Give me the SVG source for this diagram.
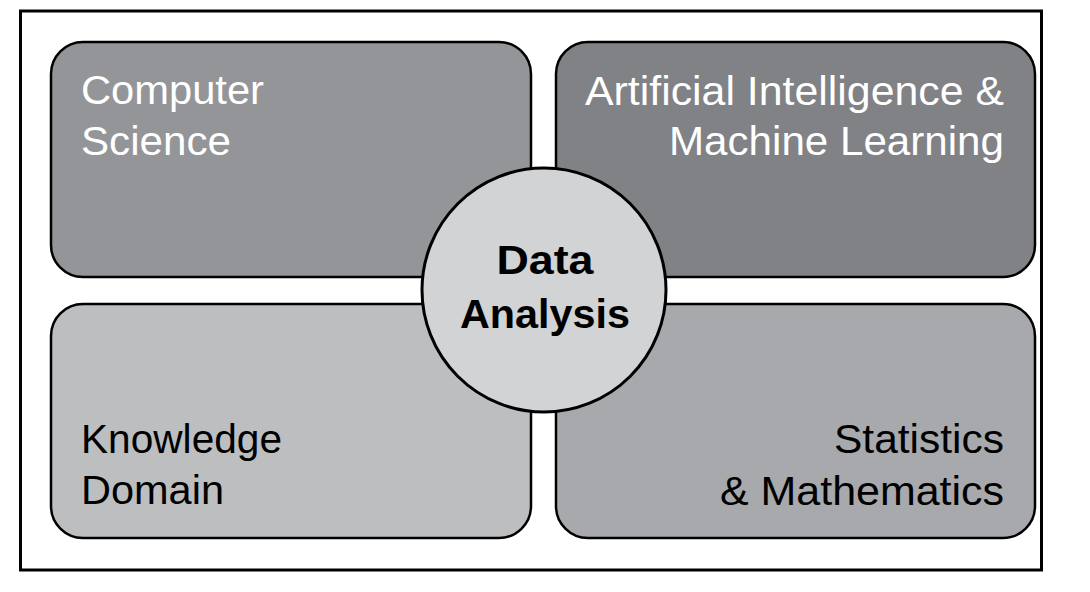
<svg xmlns="http://www.w3.org/2000/svg" width="1090" height="592" viewBox="0 0 1090 592">
  <style>
    .box { stroke: #000; stroke-width: 2.5; }
    .lbl { font-family: "Liberation Sans", Arial, sans-serif; font-size: 41px; }
    .light { fill: #ffffff; }
    .dark { fill: #000000; }
    .center { font-family: "Liberation Sans", Arial, sans-serif; font-size: 41px; font-weight: bold; fill: #000; text-anchor: middle; }
  </style>
  <rect x="0" y="0" width="1090" height="592" fill="#ffffff"/>
  <rect id="frame" x="20.5" y="11" width="1021" height="559" fill="#ffffff" stroke="#000" stroke-width="3"/>
  <g id="connectors"></g>
  <g id="computer-science">
    <rect class="box" x="51" y="42" width="480" height="235" rx="32" ry="32" fill="#939598"/>
    <text class="lbl light" x="81" y="104" textLength="183" lengthAdjust="spacingAndGlyphs">Computer</text>
    <text class="lbl light" x="81" y="155" textLength="150" lengthAdjust="spacingAndGlyphs">Science</text>
  </g>
  <g id="ai-ml">
    <rect class="box" x="556" y="42" width="479" height="235" rx="32" ry="32" fill="#808285"/>
    <text class="lbl light" x="1004" y="105" text-anchor="end" textLength="419" lengthAdjust="spacingAndGlyphs">Artificial Intelligence &amp;</text>
    <text class="lbl light" x="1004" y="155" text-anchor="end" textLength="335" lengthAdjust="spacingAndGlyphs">Machine Learning</text>
  </g>
  <g id="knowledge-domain">
    <rect class="box" x="51" y="304" width="480" height="234" rx="32" ry="32" fill="#bcbec0"/>
    <text class="lbl dark" x="81" y="453" textLength="201" lengthAdjust="spacingAndGlyphs">Knowledge</text>
    <text class="lbl dark" x="81" y="504" textLength="143" lengthAdjust="spacingAndGlyphs">Domain</text>
  </g>
  <g id="stats-math">
    <rect class="box" x="556" y="304" width="479" height="234" rx="32" ry="32" fill="#a7a9ac"/>
    <text class="lbl dark" x="1004" y="453" text-anchor="end" textLength="170" lengthAdjust="spacingAndGlyphs">Statistics</text>
    <text class="lbl dark" x="1004" y="505" text-anchor="end" textLength="284" lengthAdjust="spacingAndGlyphs">&amp; Mathematics</text>
  </g>
  <g id="data-analysis">
    <circle cx="544" cy="290" r="122" fill="#d1d3d4" stroke="#000" stroke-width="3"/>
    <text class="center" x="545" y="274" textLength="97" lengthAdjust="spacingAndGlyphs">Data</text>
    <text class="center" x="545" y="328" textLength="170" lengthAdjust="spacingAndGlyphs">Analysis</text>
  </g>
</svg>
